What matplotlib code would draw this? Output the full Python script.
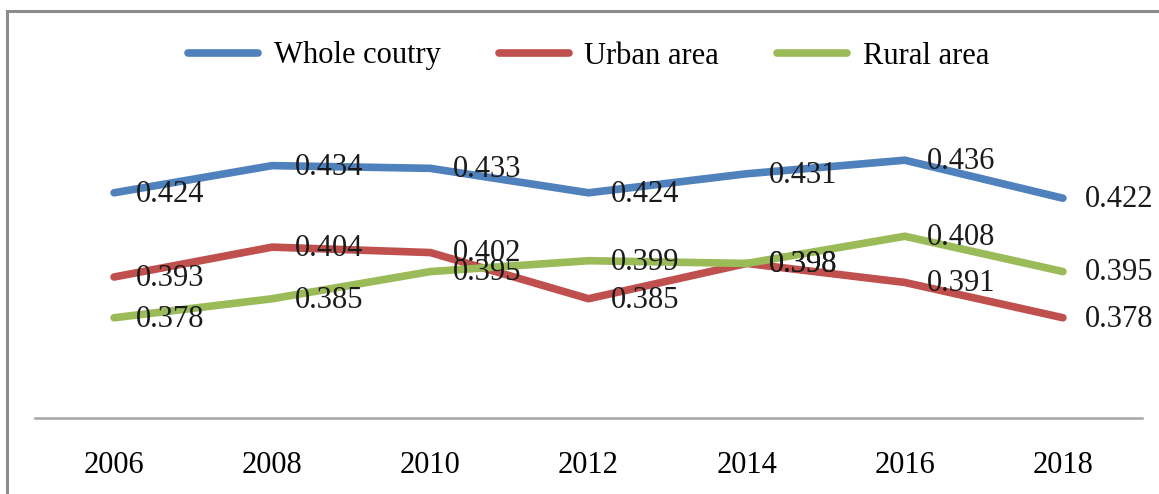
import matplotlib
matplotlib.use("Agg")
import matplotlib.pyplot as plt
from matplotlib.patches import Rectangle

years = ["2006", "2008", "2010", "2012", "2014", "2016", "2018"]
whole = [0.424, 0.434, 0.433, 0.424, 0.431, 0.436, 0.422]
urban = [0.393, 0.404, 0.402, 0.385, 0.398, 0.391, 0.378]
rural = [0.378, 0.385, 0.395, 0.399, 0.398, 0.408, 0.395]

series = [
    ("Whole coutry", whole, "#4F81BD"),
    ("Urban area", urban, "#C0504D"),
    ("Rural area", rural, "#9BBB59"),
]

plt.rcParams["font.family"] = ["Liberation Serif", "DejaVu Serif"]
plt.rcParams["font.size"] = 22

W, H = 1159, 494
fig = plt.figure(figsize=(W / 100, H / 100), dpi=100)
ax = fig.add_axes([35 / W, (H - 418) / H, (1142 - 35) / W, 326 / H])

x = list(range(len(years)))
for name, vals, color in series:
    ax.plot(x, vals, color=color, lw=5.5, label=name,
            solid_capstyle="round", solid_joinstyle="round")

# data labels, to the right of each point
for name, vals, color in series:
    for xi, v in zip(x, vals):
        ax.annotate(f"{v:.3f}", (xi, v), xytext=(16, -1), textcoords="offset points",
                    ha="left", va="center", fontsize=22, color="#1a1a1a", zorder=5)

ax.set_xlim(-0.5, 6.5)
ax.set_ylim(0.3411, 0.4611)
ax.set_xticks(x)
ax.set_xticklabels(years)
ax.tick_params(axis="x", length=0, pad=24, labelsize=22)
ax.set_yticks([])
for s in ["top", "right", "left"]:
    ax.spines[s].set_visible(False)
ax.spines["bottom"].set_color("#A6A6A6")
ax.spines["bottom"].set_linewidth(1.8)

leg = ax.legend(loc="center", bbox_to_anchor=(0.5 * (35 + 1142) / W, 1 - 56 / H),
                bbox_transform=fig.transFigure, ncol=3, frameon=False,
                handlelength=2.3, handletextpad=0.5, columnspacing=1.9, fontsize=22)
for line in leg.get_lines():
    line.set_solid_capstyle("round")

# outer frame (only left and top edges are visible in the crop)
fig.patches.append(Rectangle((7 / W, -0.05), 1.1, 1 - 11 / H + 0.05,
                             transform=fig.transFigure, fill=False,
                             edgecolor="#8C8C8C", lw=2.2))

fig.savefig("out.png", dpi=100)
